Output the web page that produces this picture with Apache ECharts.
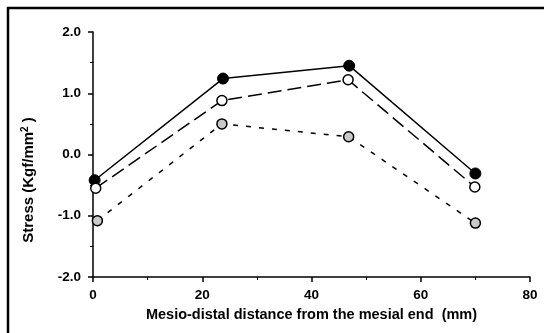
<!DOCTYPE html>
<html>
<head>
<meta charset="utf-8">
<script src="https://cdn.jsdelivr.net/npm/echarts@6/dist/echarts.min.js"></script>
<style>
  html, body { margin: 0; padding: 0; background: #fff; }
  #chart { width: 544px; height: 333px; }
</style>
</head>
<body>
<div id="chart"></div>
<script>
// distance from the mesial end (mm)
var xSolid = [0.3, 23.8, 46.9, 70.0];
var xOpen = [0.5, 23.6, 46.7, 69.9];
var xHatched = [0.8, 23.6, 46.8, 70.0];
// stress (Kgf/mm2)
var ySolid = [-0.42, 1.24, 1.45, -0.31];
var yOpen = [-0.55, 0.88, 1.22, -0.53];
var yHatched = [-1.08, 0.50, 0.29, -1.12];

function pairs(xs, ys) {
  return xs.map(function (x, i) { return [x, ys[i]]; });
}

var font = "'Liberation Sans', Arial, sans-serif";
var chart = echarts.init(document.getElementById("chart"), null, { renderer: "canvas" });

var tickLabel = { color: "#000", fontFamily: font, fontWeight: "bold", fontSize: 13.5 };

var axisCommon = {
  axisLine: { onZero: false, lineStyle: { color: "#000", width: 1.5 } },
  axisTick: { inside: false, length: 5, lineStyle: { color: "#000", width: 1.5 } },
  minorTick: { show: true, splitNumber: 2, length: 3, lineStyle: { color: "#000", width: 1 } },
  splitLine: { show: false }
};

var option = {
  animation: false,
  backgroundColor: "#fff",
  grid: { left: 93, right: 14, top: 32, bottom: 56 },
  xAxis: Object.assign({}, axisCommon, {
    type: "value",
    min: 0,
    max: 80,
    interval: 20,
    name: "Mesio-distal distance from the mesial end  (mm)",
    nameLocation: "middle",
    nameGap: 30,
    nameTextStyle: { color: "#000", fontFamily: font, fontWeight: "bold", fontSize: 14.5 },
    axisLabel: Object.assign({}, tickLabel, { margin: 11 })
  }),
  yAxis: Object.assign({}, axisCommon, {
    type: "value",
    min: -2,
    max: 2,
    interval: 1,
    axisLabel: Object.assign({}, tickLabel, {
      margin: 12,
      formatter: function (v) { return v.toFixed(1); }
    })
  }),
  graphic: [
    {
      type: "rect",
      shape: { x: 8, y: 8, width: 560, height: 360 },
      style: { fill: "none", stroke: "#000", lineWidth: 2.5 },
      silent: true
    },
    {
      type: "text",
      x: 29,
      y: 180,
      rotation: Math.PI / 2,
      style: {
        text: "Stress (Kgf/mm{sup|2} )",
        font: "bold 15px " + font,
        fill: "#000",
        align: "center",
        verticalAlign: "middle",
        rich: { sup: { fontSize: 10, fontWeight: "bold", fontFamily: font, verticalAlign: "top", padding: [0, 0, 7, 0] } }
      }
    }
  ],
  series: [
    {
      type: "line",
      data: pairs(xSolid, ySolid),
      symbol: "circle",
      symbolSize: 11,
      z: 3,
      itemStyle: { color: "#000", borderColor: "#000", borderWidth: 1 },
      lineStyle: { color: "#000", width: 1.5, type: "solid" }
    },
    {
      type: "line",
      data: pairs(xOpen, yOpen),
      symbol: "circle",
      symbolSize: 10,
      z: 4,
      itemStyle: { color: "#fff", borderColor: "#000", borderWidth: 1.5 },
      lineStyle: { color: "#000", width: 1.5, type: [14, 6] }
    },
    {
      type: "line",
      data: pairs(xHatched, yHatched),
      symbol: "circle",
      symbolSize: 10,
      z: 2,
      itemStyle: { color: "#cacaca", borderColor: "#000", borderWidth: 1.5 },
      lineStyle: { color: "#000", width: 1.5, type: [5, 8] }
    }
  ]
};

chart.setOption(option);
</script>
</body>
</html>
